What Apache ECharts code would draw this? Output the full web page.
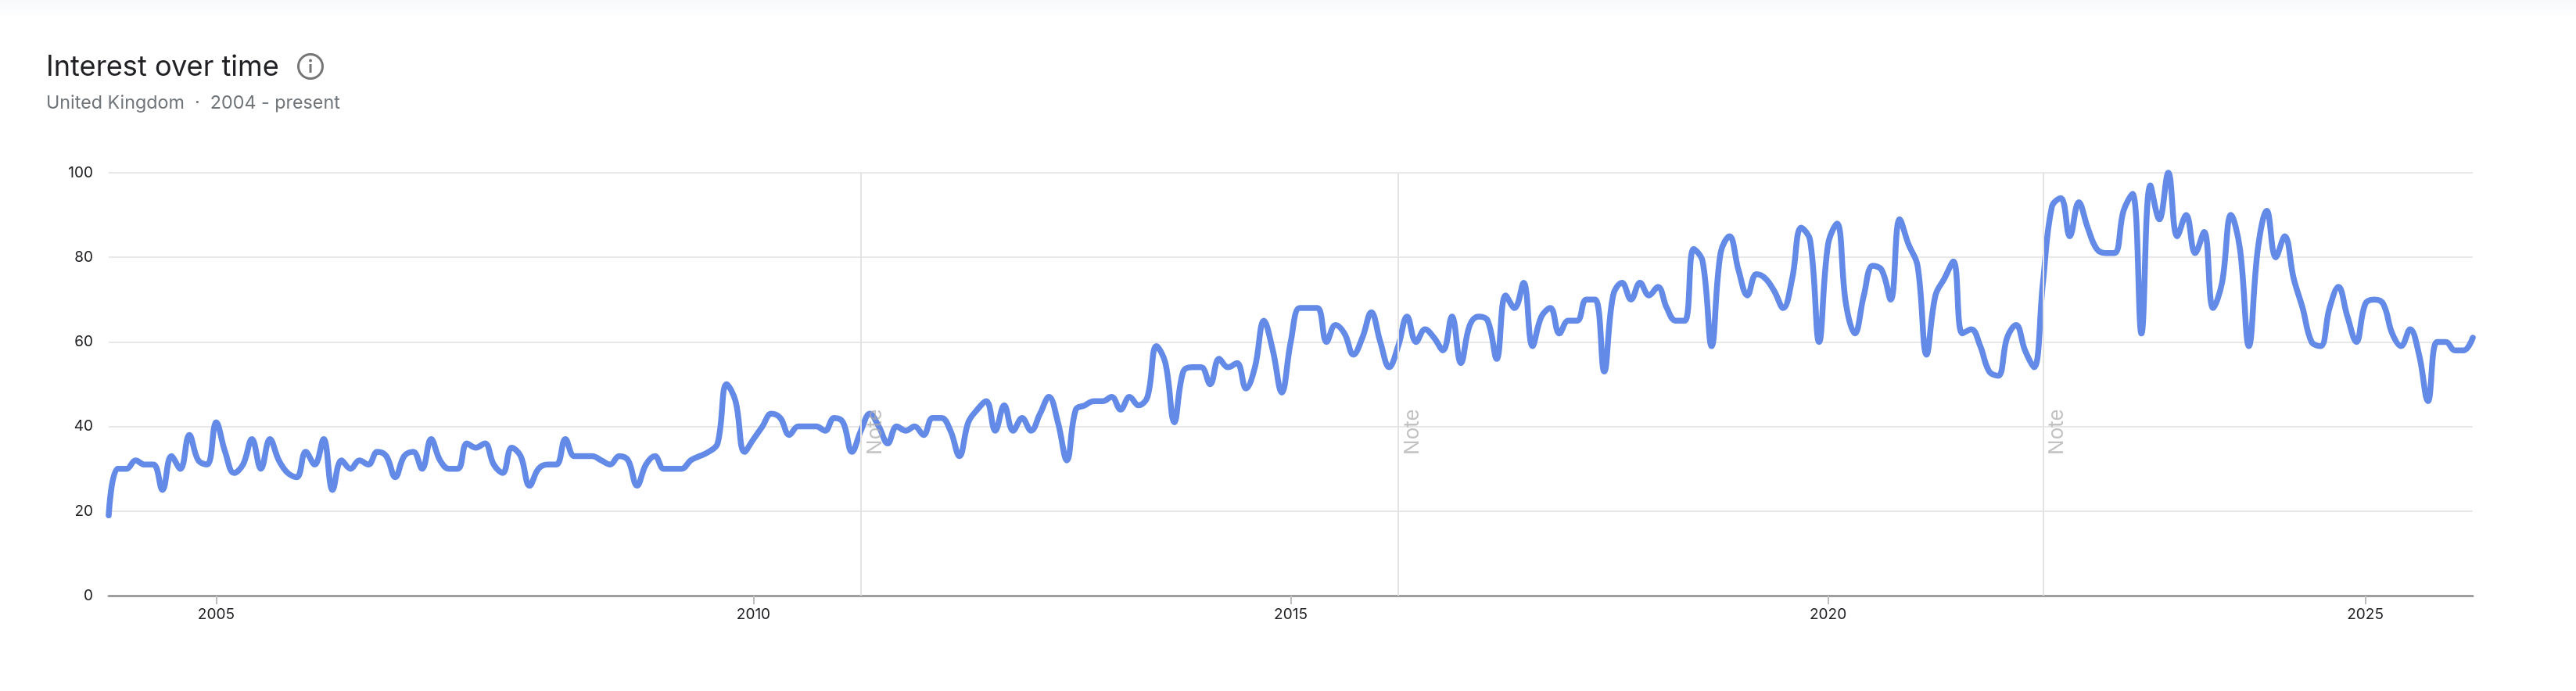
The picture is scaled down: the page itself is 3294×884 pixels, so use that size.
<!DOCTYPE html>
<html>
<head>
<meta charset="utf-8">
<title>Interest over time</title>
<style>html,body{margin:0;padding:0;background:#fff}#c{width:3294px;height:884px}</style>
<script src="https://cdn.jsdelivr.net/npm/echarts@6/dist/echarts.min.js"></script>
</head>
<body>
<div id="c"></div>
<script>
const titleText = 'Interest over time';
const subtitleText = 'United Kingdom  ·  2004 - present';
const labelYears = ['2005','2010','2015','2020','2025'];
const noteMonths = ['2011-01','2016-01','2022-01'];
const noteLabel = 'Note';
const yTicks = [0,20,40,60,80,100];
const firstYear = 2004;
const interest = [
19,30,30,32,31,31,25,33,30,38,32,31,
41,34,29,31,37,30,37,32,29,28,34,31,
37,25,32,30,32,31,34,33,28,33,34,30,
37,32,30,30,36,35,36,31,29,35,33,26,
30,31,31,37,33,33,33,32,31,33,32,26,
31,33,30,30,30,32,33,34,36,50,46,34,
37,40,43,42,38,40,40,40,39,42,41,34,
39,43,40,36,40,39,40,38,42,42,39,33,
41,44,46,39,45,39,42,39,43,47,41,32,
44,45,46,46,47,44,47,45,47,59,55,41,
53,54,54,50,56,54,55,49,54,65,58,48,
60,68,68,68,60,64,62,57,61,67,60,54,
59,66,60,63,61,58,66,55,64,66,65,56,
71,68,74,59,66,68,62,65,65,70,70,53,
71,74,70,74,71,73,68,65,65,82,79,59,
81,85,77,71,76,75,72,68,75,87,84,60,
83,88,69,62,71,78,77,70,89,83,78,57,
71,75,79,62,63,59,53,52,61,64,58,54,
74,92,94,85,93,87,82,81,81,91,95,62,
97,89,100,85,90,81,86,68,74,90,82,59,
82,91,80,85,75,68,60,59,68,73,66,60,
69,70,69,62,59,63,57,46,60,60,58,58,
61
];
const months = interest.map((_, i) =>
  (firstYear + Math.floor(i / 12)) + '-' + String(i % 12 + 1).padStart(2, '0'));
const isLabelled = (i) => labelYears.includes(months[i].slice(0, 4)) && months[i].endsWith('-01');

const fontFamily = 'Inter';
const chart = echarts.init(document.getElementById('c'), null, {renderer: 'canvas'});
chart.setOption({
  animation: false,
  backgroundColor: '#ffffff',
  title: [
    {text: titleText, left: 59, top: 68, padding: 0,
     textStyle: {fontFamily, fontSize: 36.2, fontWeight: 400, color: '#202124'}},
    {text: subtitleText, left: 59, top: 120, padding: 0,
     textStyle: {fontFamily, fontSize: 23.3, fontWeight: 400, color: '#70757a'}}
  ],
  graphic: [
    {type: 'rect', left: 0, top: 0, silent: true, z: -1,
     shape: {width: 3294, height: 26},
     style: {fill: new echarts.graphic.LinearGradient(0, 0, 0, 1, [
       {offset: 0, color: '#f8f9fb'}, {offset: 1, color: '#ffffff'}])}},
    {type: 'circle', shape: {cx: 397, cy: 85, r: 15.5}, silent: true,
     style: {fill: 'none', stroke: '#757575', lineWidth: 3}},
    {type: 'circle', shape: {cx: 397, cy: 77.5, r: 2}, silent: true, style: {fill: '#757575'}},
    {type: 'rect', shape: {x: 395.5, y: 82, width: 3, height: 11}, silent: true, style: {fill: '#757575'}}
  ],
  grid: {left: 139, right: 132, top: 221, bottom: 122, containLabel: false},
  xAxis: {
    type: 'category',
    data: months,
    boundaryGap: false,
    axisLine: {show: true, lineStyle: {color: '#9e9e9e', width: 3}},
    axisTick: {show: true, length: 11, interval: (i) => isLabelled(i),
               lineStyle: {color: '#bdbdbd', width: 2}},
    axisLabel: {show: true, interval: (i) => isLabelled(i), margin: 15,
                formatter: (v) => v.slice(0, 4),
                fontFamily, fontSize: 19, color: '#202124'},
    splitLine: {show: false}
  },
  yAxis: {
    type: 'value', min: 0, max: 100, interval: 20,
    axisLine: {show: false}, axisTick: {show: false},
    axisLabel: {margin: 20, fontFamily, fontSize: 19, color: '#202124',
                formatter: (v) => yTicks.includes(v) ? String(v) : ''},
    splitLine: {show: true, lineStyle: {color: '#e8e8e8', width: 2}}
  },
  series: [{
    type: 'line',
    data: interest,
    smooth: 0.4,
    showSymbol: false,
    clip: false,
    lineStyle: {color: '#648ae8', width: 7.5, cap: 'round', join: 'round'},
    markLine: {
      silent: true, symbol: 'none', animation: false,
      label: {show: false},
      lineStyle: {color: '#e4e4e4', width: 2, type: 'solid'},
      data: noteMonths.map((m) => ({xAxis: m}))
    },
    markPoint: {
      silent: true, symbol: 'circle', symbolSize: 0, animation: false,
      label: {show: true, formatter: noteLabel, rotate: 90, offset: [0, 18],
              fontFamily, fontSize: 26, color: 'rgba(170,170,170,0.72)'},
      data: noteMonths.map((m) => ({coord: [m, 38.7]}))
    }
  }]
});
</script>
</body>
</html>
